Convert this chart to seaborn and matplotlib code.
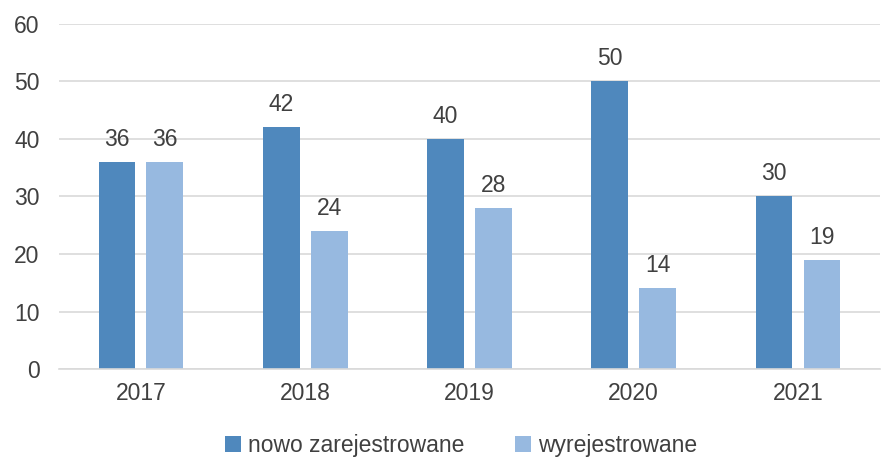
import pandas as pd
import matplotlib.pyplot as plt
import seaborn as sns

# data
years = ['2017', '2018', '2019', '2020', '2021']
nowo = [36, 42, 40, 50, 30]
wyrej = [36, 24, 28, 14, 19]
series_names = ['nowo zarejestrowane', 'wyrejestrowane']
colors = ['#4F88BD', '#97B9E0']

df = pd.DataFrame({
    'rok': years * 2,
    'liczba': nowo + wyrej,
    'seria': [series_names[0]] * len(years) + [series_names[1]] * len(years),
})

sns.set_theme(style='white')
plt.rcParams['font.family'] = ['Liberation Sans', 'DejaVu Sans']
text_color = '#404040'
fs = 16.5

fig = plt.figure(figsize=(8.85, 4.59), dpi=100)
ax = fig.add_axes([0.0665, 0.196, 0.928, 0.752])

sns.barplot(data=df, x='rok', y='liczba', hue='seria', palette=colors,
            width=0.584, gap=0.23, ax=ax, saturation=1, legend=True,
            linewidth=0)

for cont in ax.containers:
    ax.bar_label(cont, padding=8, fontsize=fs, color=text_color)

ax.set_ylim(0, 60)
ax.set_yticks(range(0, 61, 10))
ax.set_xlim(-0.5, 4.5)
ax.yaxis.grid(True, color='#D9D9D9', linewidth=1.2)
ax.set_axisbelow(True)
for s in ['top', 'right', 'left']:
    ax.spines[s].set_visible(False)
ax.spines['bottom'].set_color('#D9D9D9')
ax.spines['bottom'].set_linewidth(1.2)
ax.tick_params(axis='both', length=0, labelsize=fs, colors=text_color)
ax.tick_params(axis='x', pad=9)
ax.tick_params(axis='y', pad=14)
ax.set_xlabel('')
ax.set_ylabel('')

handles, labels = ax.get_legend_handles_labels()
ax.legend(handles, labels, loc='lower center', bbox_to_anchor=(0.49, -0.315),
          ncol=2, frameon=False, fontsize=fs, handlelength=0.7, handleheight=0.7,
          handletextpad=0.3, columnspacing=2.2, labelcolor=text_color)

fig.savefig('out.png', dpi=100)
